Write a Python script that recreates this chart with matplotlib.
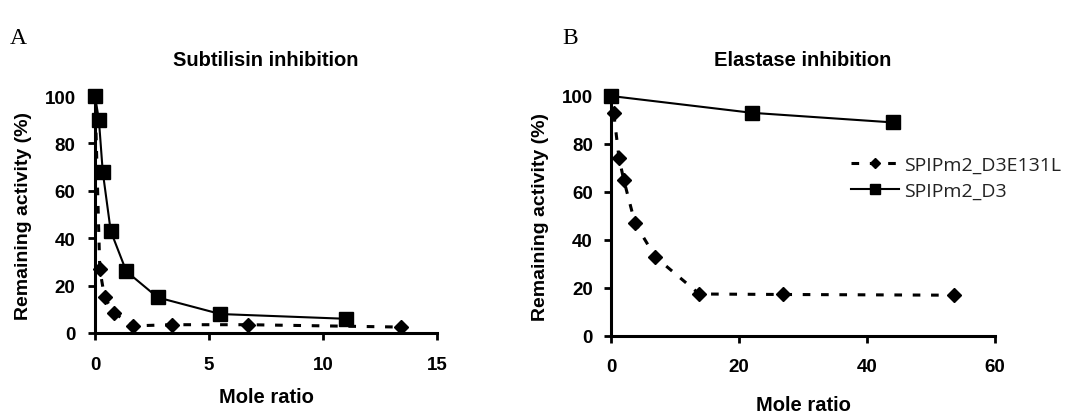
import numpy as np
import matplotlib
matplotlib.use("Agg")
import matplotlib.pyplot as plt

# Panel A - subtilisin inhibition
sub_ratio_d3 = [0, 0.17, 0.34, 0.69, 1.375, 2.75, 5.5, 11]
sub_act_d3 = [100, 90, 68, 43, 26, 15, 8, 6]
sub_ratio_e131l = [0, 0.21, 0.42, 0.84, 1.68, 3.36, 6.72, 13.44]
sub_act_e131l = [100, 27, 15, 8.5, 3, 3.5, 3.5, 2.5]

# Panel B - elastase inhibition
ela_ratio_d3 = [0, 22, 44]
ela_act_d3 = [100, 93, 89]
ela_ratio_e131l = [0, 0.42, 1.26, 2.0, 3.75, 6.9, 13.8, 26.9, 53.6]
ela_act_e131l = [100, 93, 74, 65, 47, 33, 17.5, 17.3, 17]

series_names = ["SPIPm2_D3E131L", "SPIPm2_D3"]

plt.rcParams['font.family'] = ['Liberation Sans', 'DejaVu Sans']

fig = plt.figure(figsize=(10.81, 4.14), dpi=100)

W, H = 1081, 414


def makeAxes(x0, x1, y0, y1):
    '''
        Build an axes from pixel corners (top-left origin)
    '''
    return fig.add_axes([x0 / W, 1 - y1 / H, (x1 - x0) / W, (y1 - y0) / H])


def styleAxes(ax, xmax, xticks, title, xpad, ypad, xlpad):
    '''
        Common styling of both panels
    '''
    ax.set_xlim(0, xmax)
    ax.set_ylim(0, 100)
    ax.set_xticks(xticks)
    ax.set_yticks([0, 20, 40, 60, 80, 100])
    for s in ['top', 'right']:
        ax.spines[s].set_visible(False)
    for s in ['left', 'bottom']:
        ax.spines[s].set_linewidth(2.2)
    ax.tick_params(width=2, length=5, direction='out', labelsize=13.5)
    ax.tick_params(axis='x', pad=xpad)
    ax.tick_params(axis='y', pad=ypad)
    for lab in ax.get_xticklabels() + ax.get_yticklabels():
        lab.set_fontweight('bold')
    ax.set_title(title, fontsize=14.5, fontweight='bold', pad=22)
    ax.set_xlabel("Mole ratio", fontsize=14.5, fontweight='bold', labelpad=xlpad)
    ax.set_ylabel("Remaining activity (%)", fontsize=14, fontweight='bold', labelpad=9)


dash = (0, (2.5, 3.5))

# Panel A
axA = makeAxes(95, 437, 97, 334)
axA.plot(sub_ratio_e131l, sub_act_e131l, color='black', lw=2.2, ls=dash,
         marker='D', ms=7.5, clip_on=False, zorder=3)
axA.plot(sub_ratio_d3, sub_act_d3, color='black', lw=1.5, ls='-',
         marker='s', ms=10, clip_on=False, zorder=4)
styleAxes(axA, 15, [0, 5, 10, 15], "Subtilisin inhibition", 11.5, 9, 10)

# Panel B
axB = makeAxes(611, 995, 97, 337)
lE, = axB.plot(ela_ratio_e131l, ela_act_e131l, color='black', lw=2.2, ls=dash,
               marker='D', ms=7.5, clip_on=False, zorder=3)
lD, = axB.plot(ela_ratio_d3, ela_act_d3, color='black', lw=1.5, ls='-',
               marker='s', ms=10, clip_on=False, zorder=4)
styleAxes(axB, 60, [0, 20, 40, 60], "Elastase inhibition", 11, 8, 14)

leg = fig.legend([lE, lD], series_names, loc='upper left',
                 bbox_to_anchor=(843 / W, 1 - 149 / H), frameon=False,
                 prop={'family': 'Open Sans', 'size': 14},
                 handlelength=2.5, handletextpad=0.25, labelspacing=0.4,
                 borderaxespad=0, markerscale=0.72)
for t in leg.get_texts():
    t.set_color('#222222')

# Panel letters
fig.text(10 / W, 1 - 44 / H, "A", fontsize=17, family='Liberation Serif')
fig.text(562 / W, 1 - 44 / H, "B", fontsize=17, family='Liberation Serif')

fig.savefig("out.png", dpi=100)
